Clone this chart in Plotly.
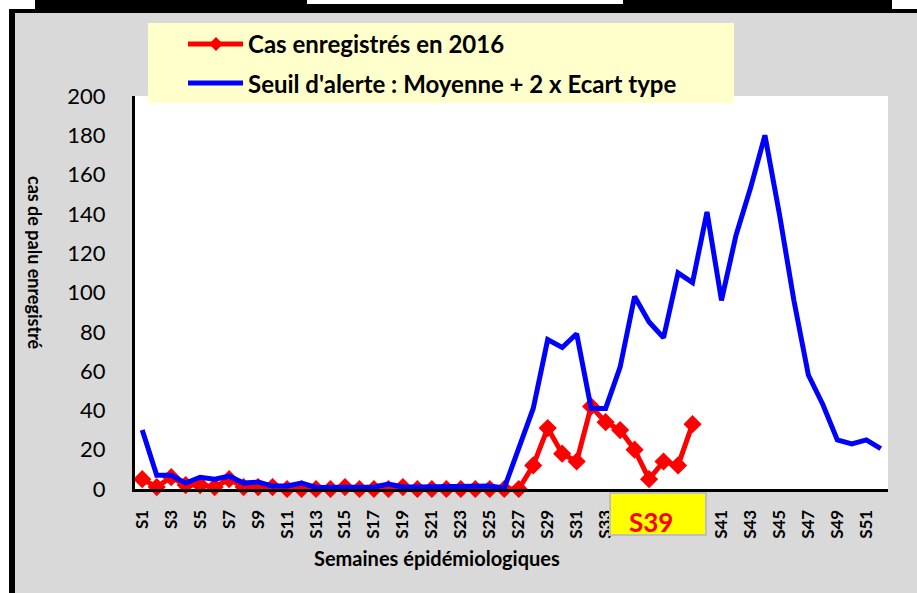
import plotly.graph_objects as go

weeks = [f"S{i}" for i in range(1, 53)]
# odd weeks are labelled; S35-S39 are hidden under the yellow "S39" box
tick_labels = [f"S{i}" for i in range(1, 53, 2) if i not in (35, 37, 39)]

cas_2016 = [5, 1, 6, 2, 2, 1, 5, 1, 1, 1, 0, 0, 0, 0, 1, 0, 0, 0, 1, 0,
            0, 0, 0, 0, 0, 0, 0, 12, 31, 18, 14, 42, 34, 30, 20, 5, 14, 12, 33]

seuil_alerte = [30, 7, 7, 3, 6, 5, 6.5, 3, 3.5, 1.5, 1.5, 3, 0.8, 1, 1, 1, 1, 2.5, 1, 1,
                1, 1, 1, 1, 1.5, 0.5, 21, 41, 76, 72, 79, 41, 41, 62, 98, 85, 77, 110, 105, 141,
                96, 129, 153, 180, 140, 96, 58, 43, 25, 23, 25, 20.5]

W, H = 917, 593
L, R, T, B = 135, 888, 96, 489
PW, PH = R - L, B - T


def px(x):
    return (x - L) / PW


def py(y):
    return (B - y) / PH


FONT = "Lato"

fig = go.Figure()
fig.add_trace(go.Scatter(
    x=weeks[:len(cas_2016)], y=cas_2016, mode="lines+markers",
    name="Cas enregistrés en 2016",
    line=dict(color="#FF0000", width=5),
    marker=dict(symbol="diamond", size=14, color="#FF0000"),
    cliponaxis=False, showlegend=False))
fig.add_trace(go.Scatter(
    x=weeks, y=seuil_alerte, mode="lines",
    name="Seuil d'alerte : Moyenne + 2 x Ecart type",
    line=dict(color="#0000FF", width=5),
    cliponaxis=False, showlegend=False))

shapes = []


def rect(x0, y0, x1, y1, fill, line_color=None, lw=0, layer="above"):
    shapes.append(dict(type="rect", xref="paper", yref="paper",
                       x0=px(x0), x1=px(x1), y0=py(y1), y1=py(y0),
                       fillcolor=fill, layer=layer,
                       line=dict(color=line_color or fill, width=lw)))


# outer frame/background
rect(0, 0, 9, H, "white", layer="below")
rect(0, 0, W, 9, "white", layer="below")
rect(35, 0, 892, 9, "black", layer="below")
rect(307, 0, 623, 4, "white", layer="below")
rect(9, 9, 15, H, "black", layer="below")
rect(9, 9, W, 13, "black", layer="below")

# legend box
rect(148, 23, 734, 103, "#FFFFCC")
for yy, col in [(44, "#FF0000"), (83, "#0000FF")]:
    shapes.append(dict(type="line", xref="paper", yref="paper",
                       x0=px(188), x1=px(243), y0=py(yy), y1=py(yy),
                       line=dict(color=col, width=5), layer="above"))
cx, cy, d = 216, 44, 7
shapes.append(dict(type="path", xref="paper", yref="paper", layer="above",
                   path=f"M {px(cx - d)},{py(cy)} L {px(cx)},{py(cy - d)} L {px(cx + d)},{py(cy)} L {px(cx)},{py(cy + d)} Z",
                   fillcolor="#FF0000", line=dict(color="#FF0000", width=0)))

# S39 highlight box
rect(610, 493, 706, 535, "#FFFF00", line_color="#BFBFBF", lw=2)

annotations = [
    dict(text="<b>Cas enregistrés en 2016</b>", x=px(246), y=py(44), xanchor="left", yanchor="middle",
         font=dict(family=FONT, size=24, color="black")),
    dict(text="<b>Seuil d'alerte : Moyenne + 2 x Ecart type</b>", x=px(246), y=py(83), xanchor="left",
         yanchor="middle", font=dict(family=FONT, size=24, color="black")),
    dict(text="<b>cas de palu enregistré</b>", x=px(35), y=py(263), textangle=90,
         xanchor="center", yanchor="middle", font=dict(family=FONT, size=18, color="black")),
    dict(text="<b>Semaines épidémiologiques</b>", x=px(437), y=py(558), xanchor="center",
         yanchor="middle", font=dict(family=FONT, size=20, color="black")),
    dict(text="<b>S39</b>", x=px(651), y=py(522), xanchor="center", yanchor="middle",
         font=dict(family=FONT, size=26, color="#FF0000")),
]
for a in annotations:
    a.update(xref="paper", yref="paper", showarrow=False)

fig.update_layout(
    width=W, height=H,
    margin=dict(l=L, r=W - R, t=T, b=H - B, pad=0),
    paper_bgcolor="#D9D9D9", plot_bgcolor="white",
    shapes=shapes, annotations=annotations,
    showlegend=False,
    xaxis=dict(type="category", categoryorder="array", categoryarray=weeks,
               range=[-0.5, 51.5], tickvals=tick_labels, ticktext=tick_labels,
               tickangle=-90, showgrid=False, zeroline=False,
               showline=True, linecolor="black", linewidth=3,
               ticks="outside", ticklen=11, tickcolor="rgba(0,0,0,0)",
               tickfont=dict(family=FONT, size=17, color="black", weight="bold")),
    yaxis=dict(range=[0, 200], dtick=20, showgrid=False, zeroline=False,
               showline=True, linecolor="black", linewidth=3,
               ticks="outside", ticklen=22, tickcolor="rgba(0,0,0,0)",
               tickfont=dict(family=FONT, size=22, color="black")),
)

fig.write_html("out.html", config={"displayModeBar": False},
               post_script="document.body.style.margin='0';")
